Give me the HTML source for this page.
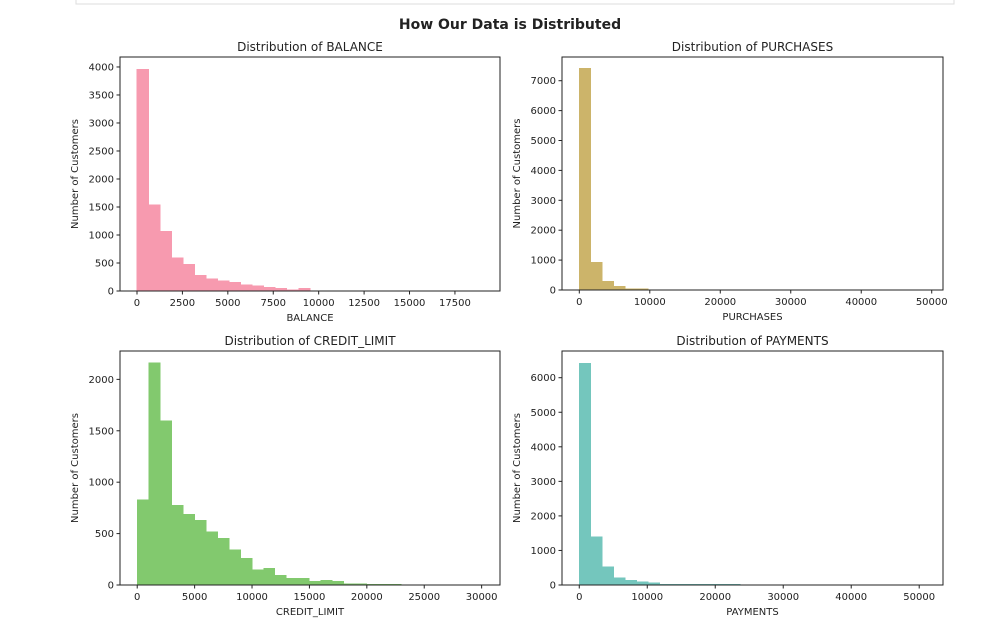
<!DOCTYPE html>
<html><head><meta charset="utf-8"><style>
html,body{margin:0;padding:0;background:#fff;width:985px;height:635px;overflow:hidden}
svg text{font-family:"DejaVu Sans","Liberation Sans",sans-serif;fill:#222}
</style></head><body>
<svg id="fig" width="985" height="635" viewBox="0 0 985 635">
<rect x="76" y="-2" width="878" height="6" fill="#fff" stroke="#ddd"/>
<text x="510" y="29" text-anchor="middle" font-size="14" font-weight="bold">How Our Data is Distributed</text>
</svg>
<script>
const balanceCounts=[3960,1540,1065,590,475,280,215,185,160,110,95,65,50,25,45,8,3,0,5,5,3,0,0,0,0,0,0,0,0,2];
const purchasesCounts=[7420,920,300,120,45,40,12,6,4,2,1,1,0,0,0,0,0,0,0,0,0,0,0,0,0,0,0,0,0,1];
const creditCounts=[830,2160,1600,775,690,630,520,455,345,260,150,165,95,65,65,35,45,35,10,10,5,5,5,0,0,0,0,0,0,1];
const paymentsCounts=[6420,1400,530,210,140,90,60,15,15,15,15,15,15,15,0,0,0,0,0,0,0,0,0,0,0,0,0,0,0,1];
const balanceXTicks=[0,2500,5000,7500,10000,12500,15000,17500];
const purchasesXTicks=[0,10000,20000,30000,40000,50000];
const creditXTicks=[0,5000,10000,15000,20000,25000,30000];
const paymentsXTicks=[0,10000,20000,30000,40000,50000];
const balanceYTicks=[0,500,1000,1500,2000,2500,3000,3500,4000];
const purchasesYTicks=[0,1000,2000,3000,4000,5000,6000,7000];
const creditYTicks=[0,500,1000,1500,2000];
const paymentsYTicks=[0,1000,2000,3000,4000,5000,6000];
const NS='http://www.w3.org/2000/svg';
const svg=document.getElementById('fig');
function mk(tag,attrs,parent){const e=document.createElementNS(NS,tag);for(const k in attrs)e.setAttribute(k,attrs[k]);(parent||svg).appendChild(e);return e;}
function panel(key,title,xlabel,counts,binW,xTicks,yTicks,color,box,xdom,ydom){
  const g=mk('g',{});
  
  
  const sx=v=>box.l+(v-xdom[0])/(xdom[1]-xdom[0])*(box.r-box.l);
  const sy=v=>box.b-(v-ydom[0])/(ydom[1]-ydom[0])*(box.b-box.t);
  counts.forEach((c,i)=>{
    if(c<=0)return;
    const x0=sx(i*binW),x1=sx((i+1)*binW),y=sy(c);
    const r=mk('rect',{x:x0,y:y,width:x1-x0,height:sy(0)-y,fill:color,stroke:color,'stroke-width':0.5,'shape-rendering':'crispEdges'},g);
    
    
  });
  const f=mk('rect',{x:box.l,y:box.t,width:box.r-box.l,height:box.b-box.t,fill:'none',stroke:'#222','stroke-width':1},g);
  
  
  xTicks.forEach(v=>{const x=sx(v);
    mk('line',{x1:x,x2:x,y1:box.b,y2:box.b+3.5,stroke:'#222'},g);
    const t=mk('text',{x:x,y:box.b+15,'text-anchor':'middle','font-size':10},g);t.textContent=v;
    
    });
  yTicks.forEach(v=>{const y=sy(v);
    mk('line',{x1:box.l-3.5,x2:box.l,y1:y,y2:y,stroke:'#222'},g);
    const t=mk('text',{x:box.l-6,y:y+3.5,'text-anchor':'end','font-size':10},g);t.textContent=v;
    
    });
  const tt=mk('text',{x:(box.l+box.r)/2,y:box.t-6,'text-anchor':'middle','font-size':12},g);tt.textContent=title;
  
  
  const xl=mk('text',{x:(box.l+box.r)/2,y:box.b+30,'text-anchor':'middle','font-size':10},g);xl.textContent=xlabel;
  
  
  const cy=(box.t+box.b)/2;
  const yl=mk('text',{x:box.l-42,y:cy,'text-anchor':'middle','font-size':10,transform:'rotate(-90 '+(box.l-42)+' '+cy+')'},g);yl.textContent='Number of Customers';
  
  
}
panel('balance','Distribution of BALANCE','BALANCE',balanceCounts,635,balanceXTicks,balanceYTicks,'#f79aaf',{l:120,r:500,t:57,b:291},[-935,19980],[0,4178]);
panel('purchases','Distribution of PURCHASES','PURCHASES',purchasesCounts,1635,purchasesXTicks,purchasesYTicks,'#ccb46a',{l:562,r:943,t:57,b:290},[-2455,51600],[0,7793]);
panel('credit-limit','Distribution of CREDIT_LIMIT','CREDIT_LIMIT',creditCounts,1000,creditXTicks,creditYTicks,'#82c96e',{l:120,r:500,t:351,b:585},[-1500,31600],[0,2276]);
panel('payments','Distribution of PAYMENTS','PAYMENTS',paymentsCounts,1690,paymentsXTicks,paymentsYTicks,'#74c6bd',{l:562,r:943,t:351,b:585},[-2540,53500],[0,6773]);
</script>
</body></html>
